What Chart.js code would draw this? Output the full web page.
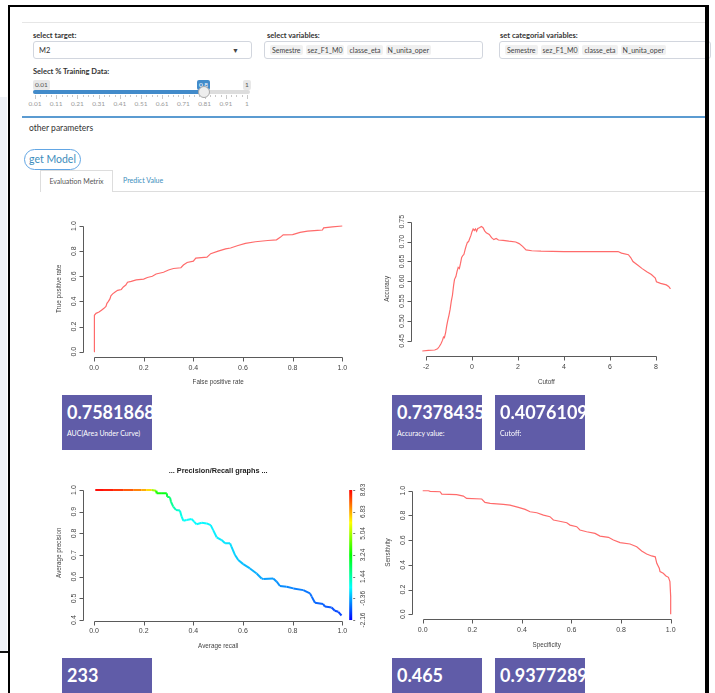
<!DOCTYPE html>
<html>
<head>
<meta charset="utf-8">
<title>Model evaluation</title>
<script src="https://cdn.jsdelivr.net/npm/chart.js@4.4.1/dist/chart.umd.min.js"></script>
<style>
  * { box-sizing: border-box; }
  html, body { margin: 0; padding: 0; background: #fff; }
  body { width: 715px; height: 693px; overflow: hidden; position: relative;
         font-family: Lato, "Open Sans", sans-serif; color: #333; }
  .a { position: absolute; }
  .frame-top { left: 8px; top: 5px; width: 701px; height: 2px; background: #000; }
  .frame-l { left: 8px; top: 5px; width: 2px; height: 688px; background: #000; }
  .frame-r { left: 705px; top: 5px; width: 4px; height: 688px; background: #000; }
  .side { left: 0; top: 97px; width: 7px; height: 554px; background: #eef1f6; }
  .side-end { left: 0; top: 651px; width: 8px; height: 2px; background: #111; }
  .hr1 { left: 22px; top: 22px; width: 683px; height: 1px; background: #e6e6e6; }
  .lbl { font-size: 7.5px; font-weight: 700; color: #333; white-space: nowrap; }
  .inp { height: 18px; border: 1px solid #d2d6de; border-radius: 3px; background: #fff;
         font-size: 7.5px; padding: 0 5px; display: flex; align-items: center; gap: 3px;
         overflow: hidden; white-space: nowrap; }
  .chip { background: #f0f0f0; padding: 1px 2px; border-radius: 2px; font-size: 7px; color: #444; }
  .caret { position: absolute; right: 12px; top: 4px; font-size: 7px; color: #444; }
  .track { left: 33px; top: 90px; width: 217px; height: 4px; background: #ddd; border-radius: 2px; }
  .fill { left: 33px; top: 90px; width: 171px; height: 4px; background: #428bca; border-radius: 2px; }
  .handle { left: 198px; top: 86px; width: 12px; height: 12px; border-radius: 50%;
            background: #eee; border: 1px solid #aaa; }
  .sl-lab { top: 80px; height: 10px; line-height: 10px; font-size: 6.5px; padding: 0 2px;
            background: #e8e8e8; color: #555; border-radius: 2px; }
  .sl-cur { background: #428bca; color: #fff; }
  .gtick { width: 1px; background: #c8c8c8; }
  .glab { top: 100px; font-size: 6.5px; color: #9a9a9a; transform: translateX(-50%); white-space: nowrap; }
  .hr2 { left: 22px; top: 116px; width: 683px; height: 2px; background: #5b9bd1; }
  .other { left: 29px; top: 123px; font-size: 8.5px; color: #333; }
  .btn { left: 24px; top: 149px; width: 57px; height: 21px; border: 1.2px solid #62a6e4;
         border-radius: 11px; color: #3c8dbc; font-size: 10.5px; text-align: center; line-height: 18px; }
  .tab { left: 40px; top: 170px; width: 73px; height: 22px; border: 1px solid #ddd; border-bottom: none;
         background: #fff; font-size: 7px; color: #555; text-align: center; line-height: 21px; }
  .tab2 { left: 123px; top: 170px; font-size: 7px; color: #3c8dbc; line-height: 21px; }
  .tabline { left: 113px; top: 191px; width: 592px; height: 1px; background: #ddd; }
  .box { width: 90px; height: 55px; background: #605ca8; color: #fff; overflow: hidden; padding: 6px 0 0 5px; }
  .box .v { font-weight: 700; font-size: 18px; line-height: 22px; white-space: nowrap; }
  .box .t { font-size: 7px; margin-top: 6px; white-space: nowrap; }
  .plot { position: absolute; }
</style>
</head>
<body>

<div class="a side"></div>
<div class="a side-end"></div>
<div class="a hr1"></div>

<!-- input controls -->
<div class="a lbl" style="left:33px;top:31px">select target:</div>
<div class="a inp" style="left:33px;top:41px;width:219px">M2<span class="caret">&#9660;</span></div>

<div class="a lbl" style="left:267px;top:31px">select variables:</div>
<div class="a inp" style="left:264px;top:41px;width:219px">
  <span class="chip">Semestre</span><span class="chip">sez_F1_M0</span><span class="chip">classe_eta</span><span class="chip">N_unita_oper</span>
</div>

<div class="a lbl" style="left:500px;top:31px">set categorial variables:</div>
<div class="a inp" style="left:499px;top:41px;width:212px">
  <span class="chip">Semestre</span><span class="chip">sez_F1_M0</span><span class="chip">classe_eta</span><span class="chip">N_unita_oper</span>
</div>

<div class="a lbl" style="left:33px;top:67px">Select % Training Data:</div>
<div class="a track"></div>
<div class="a fill"></div>
<div class="a sl-lab" style="left:33px">0.01</div>
<div class="a sl-lab sl-cur" style="left:197px">0.8</div>
<div class="a sl-lab" style="left:243px">1</div>
<div id="sliderGrid"></div>
<div class="a handle"></div>

<div class="a hr2"></div>
<div class="a other">other parameters</div>
<div class="a btn">get Model</div>
<div class="a tabline"></div>
<div class="a tab">Evaluation Metrix</div>
<div class="a tab2">Predict Value</div>

<!-- plots -->
<div class="plot" style="left:40px;top:200px"><canvas id="rocChart" width="330" height="200"></canvas></div>
<div class="plot" style="left:370px;top:200px"><canvas id="accChart" width="335" height="200"></canvas></div>
<div class="plot" style="left:40px;top:455px"><canvas id="prChart" width="330" height="200"></canvas></div>
<div class="plot" style="left:370px;top:455px"><canvas id="ssChart" width="335" height="200"></canvas></div>

<!-- value boxes -->
<div class="a box" style="left:62px;top:395px"><div class="v" id="vAuc"></div><div class="t">AUC(Area Under Curve)</div></div>
<div class="a box" style="left:392px;top:395px"><div class="v" id="vAcc"></div><div class="t">Accuracy value:</div></div>
<div class="a box" style="left:495px;top:395px"><div class="v" id="vCut"></div><div class="t">Cutoff:</div></div>
<div class="a box" style="left:62px;top:658px"><div class="v" id="vSize"></div><div class="t">Test Size</div></div>
<div class="a box" style="left:392px;top:658px"><div class="v" id="vSens"></div><div class="t">Sensitivity</div></div>
<div class="a box" style="left:495px;top:658px"><div class="v" id="vSpec"></div><div class="t">Specificity</div></div>

<div class="a frame-top"></div>
<div class="a frame-l"></div>
<div class="a frame-r"></div>

<script>
// ---- summary values ----
const AUC_VALUE = 0.7581868;
const BEST_ACCURACY = 0.7378435;
const BEST_CUTOFF = 0.4076109;
const TEST_SIZE = 233;
const SENS_VALUE = 0.465;
const SPEC_VALUE = 0.9377289;

// ---- ROC curve: false positive rate / true positive rate ----
const rocFpr = [
  0, 0, 0.003, 0.008, 0.02, 0.03, 0.04, 0.048, 0.052, 0.058,
  0.064, 0.068, 0.075, 0.085, 0.095, 0.11, 0.118, 0.128, 0.135, 0.15,
  0.17, 0.2, 0.215, 0.235, 0.25, 0.28, 0.3, 0.32, 0.35, 0.36,
  0.375, 0.4, 0.41, 0.455, 0.47, 0.5, 0.53, 0.55, 0.58, 0.61,
  0.65, 0.7, 0.735, 0.75, 0.762, 0.8, 0.83, 0.86, 0.9, 0.92,
  0.925, 0.96, 1.0
];
const rocTpr = [
  0, 0.25, 0.29, 0.305, 0.315, 0.33, 0.345, 0.36, 0.385, 0.40,
  0.42, 0.445, 0.46, 0.475, 0.488, 0.495, 0.515, 0.53, 0.553, 0.56,
  0.572, 0.578, 0.59, 0.6, 0.618, 0.632, 0.65, 0.662, 0.668, 0.69,
  0.71, 0.72, 0.745, 0.752, 0.78, 0.8, 0.818, 0.825, 0.845, 0.862,
  0.875, 0.885, 0.89, 0.91, 0.93, 0.932, 0.95, 0.96, 0.965, 0.968,
  0.985, 0.993, 1.0
];

// ---- accuracy by cutoff ----
const accCutoff = [
  -2.16, -1.9, -1.62, -1.5, -1.42, -1.35, -1.28, -1.24, -1.2, -1.15,
  -1.1, -1.06, -1.0, -0.95, -0.9, -0.85, -0.8, -0.76, -0.7, -0.65,
  -0.6, -0.55, -0.5, -0.45, -0.4, -0.35, -0.3, -0.25, -0.2, -0.15,
  -0.1, -0.05, 0.0, 0.05, 0.1, 0.15, 0.2, 0.25, 0.32, BEST_CUTOFF,
  0.48, 0.55, 0.62, 0.75, 0.85, 0.95, 1.05, 1.15, 1.35, 1.6,
  1.9, 2.05, 2.2, 2.35, 2.6, 3.0, 4.0, 5.0, 6.0, 6.35,
  6.5, 6.8, 6.9, 7.0, 7.2, 7.4, 7.6, 7.8, 7.97, 8.02,
  8.2, 8.45, 8.55, 8.63
];
const accValue = [
  0.4246, 0.4262, 0.4272, 0.430, 0.436, 0.443, 0.452, 0.460, 0.458, 0.470,
  0.488, 0.500, 0.515, 0.530, 0.550, 0.565, 0.590, 0.605, 0.612, 0.625,
  0.635, 0.632, 0.645, 0.660, 0.665, 0.668, 0.680, 0.690, 0.698, 0.700,
  0.708, 0.715, 0.725, 0.732, 0.728, 0.732, 0.726, 0.733, 0.735, BEST_ACCURACY,
  0.735, 0.727, 0.722, 0.718, 0.710, 0.705, 0.708, 0.704, 0.703, 0.701,
  0.699, 0.695, 0.688, 0.679, 0.677, 0.676, 0.675, 0.675, 0.675, 0.675,
  0.671, 0.667, 0.660, 0.650, 0.641, 0.632, 0.624, 0.617, 0.608, 0.599,
  0.595, 0.591, 0.587, 0.581
];

// ---- precision / recall, coloured by cutoff ----
const prRecall = [
  0.005, 0.04, 0.08, 0.12, 0.16, 0.19, 0.21, 0.232, 0.25, 0.252,
  0.27, 0.293, 0.295, 0.306, 0.31, 0.319, 0.33, 0.346, 0.353, 0.36,
  0.373, 0.393, 0.403, 0.413, 0.434, 0.454, 0.47, 0.48, 0.494, 0.514,
  0.528, 0.548, 0.554, 0.568, 0.581, 0.601, 0.628, 0.655, 0.675, 0.682,
  0.722, 0.736, 0.749, 0.776, 0.803, 0.843, 0.87, 0.877, 0.89, 0.923,
  0.93, 0.957, 0.97, 0.984, 0.997
];
const prPrecision = [
  1.0, 1.0, 1.0, 1.0, 1.0, 1.0, 1.0, 1.0, 0.997, 0.985,
  0.985, 0.985, 0.969, 0.966, 0.946, 0.923, 0.908, 0.905, 0.877, 0.858,
  0.862, 0.866, 0.854, 0.842, 0.849, 0.846, 0.838, 0.815, 0.782, 0.769,
  0.754, 0.754, 0.738, 0.700, 0.677, 0.658, 0.638, 0.615, 0.592, 0.589,
  0.592, 0.577, 0.557, 0.554, 0.546, 0.538, 0.523, 0.508, 0.480, 0.474,
  0.462, 0.458, 0.443, 0.438, 0.421
];
const prCutoff = [
  8.63, 8.5, 8.27, 7.96, 7.5, 7.06, 6.61, 6.02, 3.68, 3.46,
  3.24, 3.01, 2.56, 2.11, 1.89, 1.53, 1.21, 0.9, 0.72, 0.63,
  0.56, 0.54, 0.52, 0.5, 0.47, 0.44, 0.41, 0.38, 0.35, 0.3,
  0.26, 0.2, 0.16, 0.02, -0.08, -0.18, -0.27, -0.36, -0.44, -0.47,
  -0.58, -0.63, -0.68, -0.75, -0.81, -0.92, -1.0, -1.04, -1.1, -1.2,
  -1.24, -1.33, -1.4, -1.46, -1.53
];
const cbMin = -2.16, cbMax = 8.63;
const cbLabels = ['-2.16', '-0.36', '1.44', '3.24', '5.04', '6.83', '8.63'];

// ---- sensitivity / specificity ----
const ssSpec = [
  0, 0.023, 0.03, 0.07, 0.077, 0.137, 0.164, 0.177, 0.238, 0.251,
  0.272, 0.325, 0.352, 0.386, 0.413, 0.433, 0.46, 0.487, 0.513, 0.527,
  0.547, 0.581, 0.594, 0.621, 0.634, 0.661, 0.695, 0.715, 0.749, 0.769,
  0.796, 0.836, 0.863, 0.883, 0.903, 0.923, SPEC_VALUE, 0.944, 0.954, 0.957,
  0.97, 0.981, 0.991, 0.997, 1.0, 1.0
];
const ssSens = [
  1.0, 1.0, 0.995, 0.992, 0.973, 0.968, 0.957, 0.938, 0.933, 0.906,
  0.898, 0.889, 0.884, 0.865, 0.849, 0.83, 0.822, 0.803, 0.79, 0.763,
  0.755, 0.741, 0.722, 0.709, 0.682, 0.668, 0.655, 0.633, 0.623, 0.601,
  0.58, 0.569, 0.547, 0.512, 0.488, 0.472, SENS_VALUE, 0.412, 0.372, 0.345,
  0.332, 0.31, 0.299, 0.264, 0.143, 0.0
];

// ---- axis ticks ----
const unitTicks = [0, 0.2, 0.4, 0.6, 0.8, 1.0];
const unitLabels = ['0.0', '0.2', '0.4', '0.6', '0.8', '1.0'];
const accXTicks = [-2, 0, 2, 4, 6, 8];
const accXLabels = ['-2', '0', '2', '4', '6', '8'];
const accYTicks = [0.45, 0.5, 0.55, 0.6, 0.65, 0.7, 0.75];
const accYLabels = ['0.45', '0.50', '0.55', '0.60', '0.65', '0.70', '0.75'];
const prYTicks = [0.4, 0.5, 0.6, 0.7, 0.8, 0.9, 1.0];
const prYLabels = ['0.4', '0.5', '0.6', '0.7', '0.8', '0.9', '1.0'];

// ---- training slider grid ----
const sliderLabels = ['0.01', '0.11', '0.21', '0.31', '0.41', '0.51', '0.61', '0.71', '0.81', '0.91', '1'];

(function buildSliderGrid() {
  const host = document.getElementById('sliderGrid');
  const x0 = 35, x1 = 247;
  const n = sliderLabels.length - 1;
  sliderLabels.forEach((lab, i) => {
    const x = x0 + (x1 - x0) * i / n;
    const t = document.createElement('div');
    t.className = 'a gtick'; t.style.left = x + 'px'; t.style.top = '95px'; t.style.height = '4px';
    host.appendChild(t);
    const l = document.createElement('div');
    l.className = 'a glab'; l.style.left = x + 'px'; l.textContent = lab;
    host.appendChild(l);
    if (i < n) {
      for (let k = 1; k < 4; k++) {
        const m = document.createElement('div');
        m.className = 'a gtick'; m.style.left = (x + (x1 - x0) / n * k / 4) + 'px';
        m.style.top = '95px'; m.style.height = '2px';
        host.appendChild(m);
      }
    }
  });
})();

document.getElementById('vAuc').textContent = AUC_VALUE;
document.getElementById('vAcc').textContent = BEST_ACCURACY;
document.getElementById('vCut').textContent = BEST_CUTOFF;
document.getElementById('vSize').textContent = TEST_SIZE;
document.getElementById('vSens').textContent = SENS_VALUE;
document.getElementById('vSpec').textContent = SPEC_VALUE;

// ---- drawing helpers ----
const AXIS_FONT = '"Liberation Sans", Arial, Helvetica, sans-serif';

// base-graphics style axes: line spans first..last tick, ticks point outward
const rAxes = {
  id: 'rAxes',
  afterDatasetsDraw(chart, args, o) {
    if (!o || !o.xTicks) return;
    const { ctx, chartArea: a } = chart;
    const xs = chart.scales.x, ys = chart.scales.y;
    const px = v => Math.round(xs.getPixelForValue(v)) + 0.5;
    const py = v => Math.round(ys.getPixelForValue(v)) + 0.5;
    ctx.save();
    ctx.strokeStyle = '#5a5a5a'; ctx.lineWidth = 1;
    ctx.beginPath();
    const yb = Math.round(a.bottom) + 0.5;
    ctx.moveTo(px(o.xTicks[0]), yb); ctx.lineTo(px(o.xTicks[o.xTicks.length - 1]), yb);
    o.xTicks.forEach(v => { ctx.moveTo(px(v), yb); ctx.lineTo(px(v), yb + 4); });
    const xl = Math.round(a.left) - 0.5;
    ctx.moveTo(xl, py(o.yTicks[0])); ctx.lineTo(xl, py(o.yTicks[o.yTicks.length - 1]));
    o.yTicks.forEach(v => { ctx.moveTo(xl, py(v)); ctx.lineTo(xl - 4, py(v)); });
    ctx.stroke();

    ctx.fillStyle = '#444'; ctx.textAlign = 'center'; ctx.textBaseline = 'middle';
    ctx.font = '7px ' + AXIS_FONT;
    o.xTicks.forEach((v, i) => ctx.fillText(o.xLabels[i], xs.getPixelForValue(v), a.bottom + 11));
    o.yTicks.forEach((v, i) => {
      ctx.save(); ctx.translate(a.left - 10, ys.getPixelForValue(v)); ctx.rotate(-Math.PI / 2);
      ctx.fillText(o.yLabels[i], 0, 0); ctx.restore();
    });
    ctx.font = '6.3px ' + AXIS_FONT;
    ctx.fillText(o.xTitle, (a.left + a.right) / 2, a.bottom + 26);
    ctx.save(); ctx.translate(a.left - 25, (a.top + a.bottom) / 2); ctx.rotate(-Math.PI / 2);
    ctx.fillText(o.yTitle, 0, 0); ctx.restore();
    if (o.title) {
      ctx.font = 'bold 7.3px ' + AXIS_FONT; ctx.fillStyle = '#222';
      ctx.fillText(o.title, (a.left + a.right) / 2, a.top - 14);
    }
    ctx.restore();
  }
};

// rainbow colour key for the cutoff values, drawn at the right edge of the plot
const colorKey = {
  id: 'colorKey',
  afterDatasetsDraw(chart, args, o) {
    if (!o || !o.labels) return;
    const { ctx, chartArea: a } = chart;
    const ys = chart.scales.y;
    const top = ys.getPixelForValue(o.ticks[o.ticks.length - 1]);
    const bot = ys.getPixelForValue(o.ticks[0]);
    const x0 = a.right - 3;
    ctx.save();
    const g = ctx.createLinearGradient(0, top, 0, bot);
    [0, 0.25, 0.5, 0.75, 1].forEach(t => g.addColorStop(t, `hsl(${240 * t},100%,50%)`));
    ctx.fillStyle = g;
    ctx.fillRect(x0, top, 3, bot - top);
    ctx.strokeStyle = '#777'; ctx.lineWidth = 1;
    ctx.beginPath();
    o.ticks.forEach(v => {
      const y = Math.round(ys.getPixelForValue(v)) + 0.5;
      ctx.moveTo(a.right + 1, y); ctx.lineTo(a.right + 3, y);
    });
    ctx.stroke();
    ctx.fillStyle = '#444'; ctx.textAlign = 'center'; ctx.textBaseline = 'middle';
    ctx.font = '6.5px ' + AXIS_FONT;
    o.ticks.forEach((v, i) => {
      ctx.save(); ctx.translate(a.right + 11, ys.getPixelForValue(v)); ctx.rotate(-Math.PI / 2);
      ctx.fillText(o.labels[i], 0, 0); ctx.restore();
    });
    ctx.restore();
  }
};

// plot limits extended by 4% on both sides
function rRange(arr) {
  const lo = Math.min(...arr), hi = Math.max(...arr), d = (hi - lo) * 0.04;
  return [lo - d, hi + d];
}
const toPoints = (xs, ys) => xs.map((x, i) => ({ x, y: ys[i] }));
const cutoffColor = c => `hsl(${(cbMax - c) / (cbMax - cbMin) * 240},100%,52%)`;

function makePlot(id, dataset, xr, yr, pad, axes, key) {
  return new Chart(document.getElementById(id), {
    type: 'line',
    data: { datasets: [Object.assign({
      borderColor: '#ff6b6b', borderWidth: 1.2, pointRadius: 0, tension: 0, fill: false
    }, dataset)] },
    options: {
      responsive: false, animation: false, devicePixelRatio: 1,
      layout: { padding: pad },
      scales: {
        x: { type: 'linear', min: xr[0], max: xr[1], display: false },
        y: { type: 'linear', min: yr[0], max: yr[1], display: false }
      },
      plugins: { legend: { display: false }, tooltip: { enabled: false }, rAxes: axes, colorKey: key || {} }
    },
    plugins: [rAxes, colorKey]
  });
}

makePlot('rocChart', { data: toPoints(rocFpr, rocTpr) },
  rRange(rocFpr), rRange(rocTpr),
  { left: 44.1, right: 17.8, top: 21, bottom: 43.3 },
  { xTicks: unitTicks, xLabels: unitLabels, yTicks: unitTicks, yLabels: unitLabels,
    xTitle: 'False positive rate', yTitle: 'True positive rate' });

makePlot('accChart', { data: toPoints(accCutoff, accValue) },
  rRange(accCutoff), rRange(accValue),
  { left: 42.4, right: 24.6, top: 21.6, bottom: 44 },
  { xTicks: accXTicks, xLabels: accXLabels, yTicks: accYTicks, yLabels: accYLabels,
    xTitle: 'Cutoff', yTitle: 'Accuracy' });

makePlot('prChart', {
    data: toPoints(prRecall, prPrecision), borderWidth: 2,
    borderColor: cutoffColor(prCutoff[0]),
    segment: { borderColor: s => cutoffColor((prCutoff[s.p0DataIndex] + prCutoff[s.p1DataIndex]) / 2) }
  },
  rRange(unitTicks), rRange(prPrecision),
  { left: 44.1, right: 17.8, top: 30, bottom: 34.5 },
  { xTicks: unitTicks, xLabels: unitLabels, yTicks: prYTicks, yLabels: prYLabels,
    xTitle: 'Average recall', yTitle: 'Average precision', title: '... Precision/Recall graphs ...' },
  { ticks: prYTicks, labels: cbLabels });

makePlot('ssChart', { data: toPoints(ssSpec, ssSens) },
  rRange(ssSpec), rRange(ssSens),
  { left: 42.8, right: 24.4, top: 30.8, bottom: 35.8 },
  { xTicks: unitTicks, xLabels: unitLabels, yTicks: unitTicks, yLabels: unitLabels,
    xTitle: 'Specificity', yTitle: 'Sensitivity' });
</script>
</body>
</html>
